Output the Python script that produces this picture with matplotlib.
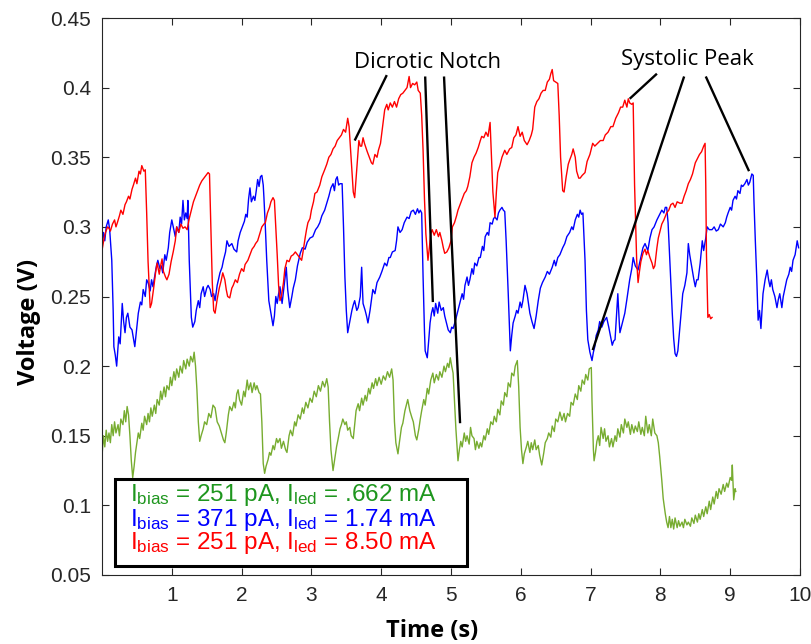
import numpy as np
import matplotlib
matplotlib.use("Agg")
import matplotlib.pyplot as plt
from matplotlib.patches import Rectangle

plt.rcParams['font.family'] = ['Liberation Sans', 'DejaVu Sans']
plt.rcParams['mathtext.fontset'] = 'custom'
plt.rcParams['mathtext.rm'] = 'Liberation Sans'
plt.rcParams['mathtext.it'] = 'Liberation Sans'

# ---------------- data (time s, voltage V) ----------------
red_pts = [
(0.00,.283),(0.03,.292),(0.05,.296),(0.08,.300),(0.10,.299),(0.12,.297),(0.15,.302),(0.18,.305),(0.20,.300),(0.22,.303),
(0.25,.308),(0.27,.312),(0.30,.309),(0.33,.316),(0.35,.318),(0.38,.322),(0.40,.320),(0.43,.327),(0.45,.330),(0.48,.335),
(0.50,.331),(0.53,.340),(0.55,.338),(0.57,.344),(0.60,.340),(0.62,.341),(0.64,.310),(0.66,.275),(0.69,.242),(0.71,.245),
(0.74,.256),(0.77,.268),(0.79,.274),(0.82,.266),(0.84,.272),(0.86,.277),(0.88,.268),(0.91,.264),(0.93,.262),(0.96,.266),
(0.99,.275),(1.02,.282),(1.05,.290),(1.07,.300),(1.10,.296),(1.13,.302),(1.16,.299),(1.19,.300),(1.22,.298),(1.25,.306),
(1.28,.312),(1.31,.318),(1.34,.322),(1.37,.326),(1.40,.330),(1.43,.333),(1.46,.335),(1.49,.337),(1.52,.339),(1.54,.338),
(1.56,.300),(1.58,.260),(1.60,.240),(1.62,.238),(1.65,.248),(1.68,.256),(1.71,.262),(1.73,.267),(1.76,.262),(1.78,.255),
(1.80,.250),(1.83,.249),(1.86,.256),(1.88,.258),(1.91,.262),(1.94,.260),(1.97,.266),(2.00,.270),(2.03,.268),(2.05,.273),
(2.09,.276),(2.12,.280),(2.15,.284),(2.18,.286),(2.20,.288),(2.23,.290),(2.26,.295),(2.29,.300),(2.32,.302),(2.34,.303),
(2.37,.310),(2.40,.314),(2.42,.318),(2.45,.321),(2.47,.319),(2.49,.300),(2.51,.280),(2.53,.258),(2.55,.247),(2.57,.250),
(2.60,.260),(2.62,.270),(2.65,.276),(2.68,.275),(2.71,.279),(2.74,.280),(2.77,.282),(2.80,.280),(2.83,.278),(2.86,.276),
(2.88,.282),(2.91,.292),(2.93,.298),(2.95,.303),(2.98,.306),(3.00,.312),(3.03,.318),(3.05,.324),(3.08,.325),(3.12,.330),
(3.15,.336),(3.19,.341),(3.22,.345),(3.25,.350),(3.28,.352),(3.31,.356),(3.34,.358),(3.37,.362),(3.40,.364),(3.43,.366),
(3.46,.370),(3.49,.368),(3.52,.378),(3.54,.372),(3.56,.356),(3.58,.340),(3.60,.325),(3.62,.321),(3.64,.335),(3.66,.350),
(3.68,.362),(3.70,.358),(3.72,.358),(3.74,.364),(3.76,.360),(3.78,.357),(3.80,.354),(3.83,.350),(3.86,.346),(3.88,.345),
(3.91,.352),(3.94,.350),(3.96,.355),(3.99,.360),(4.02,.372),(4.05,.384),(4.08,.388),(4.10,.384),(4.13,.389),(4.16,.386),
(4.19,.390),(4.22,.386),(4.25,.392),(4.28,.395),(4.31,.396),(4.34,.398),(4.37,.400),(4.40,.408),(4.42,.400),(4.45,.403),
(4.48,.402),(4.51,.404),(4.53,.398),(4.56,.396),(4.58,.380),(4.60,.355),(4.62,.320),(4.64,.295),(4.67,.276),(4.69,.285),
(4.71,.295),(4.73,.298),(4.76,.294),(4.79,.298),(4.82,.293),(4.84,.296),(4.87,.290),(4.89,.285),(4.91,.281),(4.94,.282),
(4.97,.285),(5.00,.290),(5.02,.300),(5.05,.303),(5.08,.308),(5.10,.312),(5.13,.316),(5.16,.320),(5.19,.324),(5.22,.326),
(5.24,.329),(5.27,.336),(5.30,.346),(5.33,.350),(5.36,.353),(5.39,.357),(5.42,.362),(5.44,.365),(5.47,.364),(5.50,.368),
(5.53,.365),(5.56,.375),(5.58,.350),(5.60,.325),(5.63,.307),(5.65,.325),(5.67,.339),(5.70,.344),(5.73,.350),(5.77,.355),
(5.80,.352),(5.84,.356),(5.87,.357),(5.90,.364),(5.93,.366),(5.96,.372),(5.99,.365),(6.02,.368),(6.05,.362),(6.09,.359),
(6.12,.362),(6.15,.366),(6.17,.370),(6.20,.386),(6.23,.390),(6.26,.392),(6.29,.396),(6.32,.398),(6.35,.398),(6.38,.404),
(6.41,.406),(6.43,.410),(6.45,.413),(6.47,.405),(6.50,.404),(6.53,.403),(6.55,.380),(6.57,.350),(6.60,.326),(6.62,.325),
(6.65,.336),(6.68,.345),(6.70,.348),(6.73,.352),(6.75,.356),(6.78,.350),(6.80,.340),(6.83,.335),(6.85,.335),(6.88,.337),
(6.92,.339),(6.95,.347),(6.99,.352),(7.03,.360),(7.06,.358),(7.10,.360),(7.14,.362),(7.18,.362),(7.21,.366),(7.25,.368),
(7.29,.372),(7.32,.372),(7.36,.378),(7.40,.382),(7.43,.386),(7.46,.386),(7.49,.391),(7.52,.386),(7.54,.392),(7.56,.389),
(7.59,.388),(7.61,.389),(7.63,.330),(7.66,.276),(7.68,.260),(7.70,.268),(7.72,.275),(7.75,.281),(7.78,.284),(7.80,.280),
(7.82,.283),(7.85,.278),(7.88,.274),(7.90,.270),(7.92,.272),(7.95,.285),(7.97,.292),(7.99,.296),(8.02,.302),(8.05,.305),
(8.09,.310),(8.12,.312),(8.15,.316),(8.18,.317),(8.21,.314),(8.24,.318),(8.28,.317),(8.31,.317),(8.34,.322),(8.37,.326),
(8.40,.331),(8.43,.334),(8.46,.338),(8.48,.342),(8.50,.346),(8.53,.349),(8.56,.352),(8.59,.354),(8.62,.358),(8.64,.360),
(8.65,.330),(8.66,.280),(8.68,.235),(8.70,.237),(8.72,.234),(8.74,.235),
]

blue_pts = [
(0.00,.288),(0.02,.296),(0.04,.290),(0.06,.300),(0.09,.305),(0.11,.298),(0.14,.276),(0.16,.240),(0.17,.214),(0.19,.208),
(0.21,.200),(0.24,.221),(0.26,.216),(0.29,.245),(0.31,.232),(0.33,.224),(0.35,.235),(0.37,.238),(0.40,.228),(0.43,.226),
(0.45,.220),(0.47,.214),(0.50,.228),(0.52,.238),(0.55,.246),(0.57,.244),(0.59,.255),(0.62,.250),(0.64,.262),(0.66,.260),
(0.69,.254),(0.71,.262),(0.73,.257),(0.76,.266),(0.78,.272),(0.80,.276),(0.83,.270),(0.85,.272),(0.87,.267),(0.90,.280),
(0.92,.276),(0.95,.285),(0.97,.296),(1.00,.305),(1.03,.298),(1.05,.293),(1.07,.300),(1.10,.296),(1.12,.307),(1.14,.302),
(1.16,.319),(1.18,.305),(1.20,.310),(1.22,.306),(1.23,.319),(1.25,.276),(1.27,.250),(1.28,.235),(1.30,.228),(1.33,.232),
(1.35,.240),(1.38,.247),(1.40,.242),(1.42,.252),(1.45,.257),(1.47,.250),(1.50,.256),(1.52,.258),(1.55,.255),(1.57,.250),
(1.60,.252),(1.62,.247),(1.65,.258),(1.69,.267),(1.72,.271),(1.74,.276),(1.77,.282),(1.79,.290),(1.82,.286),(1.86,.288),
(1.89,.284),(1.93,.282),(1.95,.290),(1.98,.296),(2.01,.300),(2.04,.304),(2.06,.309),(2.08,.307),(2.10,.320),(2.12,.328),
(2.14,.318),(2.17,.322),(2.19,.319),(2.21,.326),(2.23,.334),(2.25,.329),(2.27,.336),(2.29,.337),(2.31,.330),(2.32,.321),
(2.34,.300),(2.36,.276),(2.39,.247),(2.42,.238),(2.45,.229),(2.47,.236),(2.49,.250),(2.51,.245),(2.53,.252),(2.55,.257),
(2.58,.245),(2.61,.258),(2.64,.271),(2.66,.255),(2.69,.242),(2.72,.250),(2.74,.256),(2.77,.262),(2.80,.272),(2.84,.281),
(2.87,.285),(2.91,.284),(2.94,.289),(2.98,.292),(3.02,.293),(3.06,.298),(3.09,.300),(3.12,.303),(3.15,.308),(3.19,.312),
(3.22,.317),(3.25,.322),(3.28,.328),(3.31,.331),(3.33,.326),(3.35,.334),(3.37,.336),(3.39,.330),(3.41,.331),(3.44,.331),
(3.46,.300),(3.48,.264),(3.50,.240),(3.52,.224),(3.55,.232),(3.58,.240),(3.60,.244),(3.62,.247),(3.65,.240),(3.67,.242),
(3.70,.250),(3.72,.271),(3.74,.245),(3.77,.240),(3.79,.236),(3.81,.231),(3.84,.240),(3.88,.255),(3.91,.252),(3.94,.260),
(3.98,.264),(4.01,.268),(4.05,.274),(4.08,.272),(4.11,.278),(4.13,.278),(4.16,.282),(4.20,.283),(4.22,.290),(4.24,.300),
(4.27,.296),(4.30,.298),(4.33,.303),(4.37,.307),(4.40,.306),(4.43,.311),(4.46,.312),(4.49,.309),(4.52,.313),(4.54,.310),
(4.56,.312),(4.58,.310),(4.60,.264),(4.62,.225),(4.63,.211),(4.66,.206),(4.68,.218),(4.70,.231),(4.72,.238),(4.74,.242),
(4.76,.236),(4.78,.245),(4.81,.238),(4.83,.246),(4.86,.240),(4.89,.242),(4.91,.236),(4.94,.230),(4.96,.226),(4.99,.224),
(5.01,.228),(5.03,.227),(5.06,.232),(5.09,.238),(5.12,.244),(5.16,.252),(5.18,.248),(5.20,.258),(5.23,.264),(5.25,.258),
(5.27,.262),(5.30,.270),(5.32,.266),(5.34,.274),(5.37,.272),(5.40,.278),(5.42,.278),(5.45,.286),(5.47,.283),(5.49,.293),
(5.52,.296),(5.54,.294),(5.56,.303),(5.59,.302),(5.61,.306),(5.63,.307),(5.66,.305),(5.68,.310),(5.70,.312),(5.73,.314),
(5.75,.312),(5.77,.311),(5.79,.290),(5.82,.252),(5.85,.211),(5.87,.222),(5.89,.231),(5.92,.236),(5.94,.240),(5.96,.238),
(5.99,.246),(6.01,.242),(6.03,.247),(6.06,.258),(6.09,.252),(6.11,.245),(6.13,.238),(6.16,.232),(6.19,.227),(6.22,.236),
(6.25,.247),(6.28,.256),(6.31,.260),(6.35,.264),(6.38,.268),(6.41,.266),(6.45,.271),(6.48,.276),(6.50,.272),(6.53,.278),
(6.56,.280),(6.60,.285),(6.63,.288),(6.66,.293),(6.70,.296),(6.73,.300),(6.75,.298),(6.78,.305),(6.81,.309),(6.83,.307),
(6.85,.312),(6.87,.309),(6.89,.310),(6.92,.276),(6.94,.240),(6.96,.219),(6.99,.210),(7.02,.204),(7.04,.210),(7.06,.214),
(7.08,.222),(7.11,.226),(7.13,.232),(7.16,.228),(7.19,.232),(7.23,.235),(7.26,.228),(7.29,.220),(7.31,.215),(7.33,.218),
(7.35,.219),(7.37,.235),(7.39,.252),(7.41,.232),(7.42,.224),(7.45,.230),(7.49,.238),(7.52,.248),(7.56,.262),(7.59,.270),
(7.61,.278),(7.64,.272),(7.68,.269),(7.71,.276),(7.75,.285),(7.78,.288),(7.82,.283),(7.85,.292),(7.88,.298),(7.91,.300),
(7.95,.305),(7.98,.308),(8.02,.312),(8.05,.310),(8.07,.314),(8.09,.314),(8.11,.303),(8.14,.270),(8.17,.238),(8.19,.220),
(8.21,.209),(8.23,.207),(8.25,.211),(8.28,.228),(8.30,.240),(8.32,.252),(8.35,.258),(8.38,.267),(8.40,.288),(8.42,.280),
(8.45,.271),(8.48,.262),(8.50,.257),(8.52,.262),(8.54,.262),(8.57,.274),(8.60,.290),(8.62,.283),(8.65,.292),(8.67,.300),
(8.70,.298),(8.74,.298),(8.77,.300),(8.80,.297),(8.83,.298),(8.86,.302),(8.90,.300),(8.93,.303),(8.95,.307),(8.97,.310),
(9.00,.314),(9.02,.312),(9.04,.319),(9.07,.322),(9.09,.320),(9.11,.326),(9.14,.324),(9.16,.330),(9.18,.329),(9.21,.331),
(9.24,.334),(9.26,.330),(9.28,.332),(9.31,.338),(9.33,.337),(9.34,.319),(9.36,.290),(9.38,.264),(9.40,.233),(9.42,.240),
(9.44,.227),(9.47,.252),(9.50,.262),(9.53,.269),(9.55,.262),(9.57,.257),(9.59,.262),(9.61,.255),(9.64,.250),(9.67,.242),
(9.69,.248),(9.71,.252),(9.74,.242),(9.76,.250),(9.79,.257),(9.81,.262),(9.84,.266),(9.86,.271),(9.88,.268),(9.90,.276),
(9.93,.280),(9.96,.290),(9.98,.285),
]

green_pts = [
(0.00,.135),(0.02,.150),(0.04,.142),(0.06,.154),(0.08,.146),(0.10,.152),(0.12,.145),(0.14,.158),(0.16,.150),(0.18,.160),
(0.20,.152),(0.23,.158),(0.25,.150),(0.27,.162),(0.30,.158),(0.32,.168),(0.34,.160),(0.36,.171),(0.38,.165),(0.40,.150),
(0.42,.132),(0.44,.120),(0.46,.128),(0.48,.138),(0.50,.145),(0.52,.152),(0.54,.148),(0.57,.159),(0.59,.154),(0.61,.164),
(0.64,.158),(0.66,.166),(0.68,.160),(0.70,.170),(0.72,.164),(0.75,.172),(0.77,.166),(0.79,.176),(0.82,.172),(0.84,.182),
(0.86,.176),(0.89,.185),(0.91,.178),(0.93,.186),(0.96,.183),(0.98,.192),(1.00,.186),(1.03,.196),(1.05,.190),(1.07,.198),
(1.10,.192),(1.12,.200),(1.15,.195),(1.17,.204),(1.20,.198),(1.22,.205),(1.25,.200),(1.27,.207),(1.30,.203),(1.32,.210),
(1.34,.200),(1.36,.183),(1.38,.160),(1.40,.146),(1.42,.150),(1.45,.155),(1.47,.160),(1.50,.158),(1.53,.166),(1.56,.163),
(1.59,.172),(1.62,.170),(1.65,.160),(1.68,.157),(1.71,.152),(1.74,.147),(1.76,.145),(1.78,.152),(1.81,.165),(1.83,.171),
(1.86,.168),(1.89,.174),(1.91,.170),(1.93,.180),(1.95,.183),(1.97,.176),(2.00,.172),(2.03,.182),(2.05,.178),(2.08,.190),
(2.10,.183),(2.13,.188),(2.15,.181),(2.18,.188),(2.20,.183),(2.22,.186),(2.25,.181),(2.27,.180),(2.29,.160),(2.31,.130),
(2.33,.123),(2.35,.128),(2.38,.133),(2.40,.138),(2.42,.136),(2.45,.143),(2.47,.140),(2.50,.148),(2.52,.145),(2.55,.148),
(2.57,.141),(2.60,.146),(2.63,.140),(2.65,.138),(2.68,.150),(2.70,.154),(2.73,.150),(2.76,.160),(2.78,.157),(2.81,.165),
(2.84,.162),(2.87,.170),(2.89,.166),(2.92,.174),(2.95,.170),(2.98,.177),(3.01,.174),(3.04,.182),(3.07,.178),(3.10,.186),
(3.13,.182),(3.16,.189),(3.19,.185),(3.22,.191),(3.24,.185),(3.26,.160),(3.28,.140),(3.31,.125),(3.34,.135),(3.36,.142),
(3.38,.147),(3.41,.155),(3.43,.158),(3.45,.162),(3.48,.158),(3.50,.160),(3.52,.154),(3.55,.156),(3.57,.150),(3.60,.148),
(3.62,.158),(3.64,.168),(3.67,.173),(3.69,.168),(3.72,.177),(3.74,.172),(3.77,.179),(3.79,.175),(3.82,.184),(3.84,.180),
(3.87,.188),(3.89,.184),(3.92,.191),(3.94,.186),(3.97,.192),(4.00,.187),(4.03,.193),(4.06,.190),(4.09,.196),(4.12,.192),
(4.15,.198),(4.17,.190),(4.19,.160),(4.21,.145),(4.24,.137),(4.26,.145),(4.29,.156),(4.31,.159),(4.34,.168),(4.36,.172),
(4.38,.176),(4.41,.168),(4.44,.163),(4.46,.160),(4.49,.150),(4.51,.147),(4.54,.155),(4.56,.162),(4.58,.168),(4.61,.176),
(4.63,.172),(4.66,.184),(4.68,.180),(4.71,.190),(4.74,.195),(4.76,.188),(4.79,.194),(4.82,.190),(4.84,.196),(4.87,.192),
(4.90,.200),(4.92,.196),(4.95,.202),(4.97,.199),(4.99,.206),(5.01,.200),(5.03,.195),(5.05,.175),(5.07,.155),(5.10,.132),
(5.12,.140),(5.14,.146),(5.16,.142),(5.19,.152),(5.21,.146),(5.23,.150),(5.26,.144),(5.28,.156),(5.30,.150),(5.33,.148),
(5.35,.140),(5.37,.146),(5.40,.141),(5.42,.145),(5.44,.142),(5.47,.150),(5.49,.147),(5.52,.155),(5.54,.151),(5.57,.160),
(5.60,.158),(5.62,.164),(5.65,.160),(5.67,.169),(5.70,.165),(5.72,.175),(5.75,.172),(5.77,.181),(5.80,.178),(5.82,.188),
(5.85,.185),(5.87,.195),(5.90,.193),(5.92,.200),(5.95,.204),(5.97,.185),(5.99,.156),(6.01,.140),(6.03,.130),(6.05,.137),
(6.08,.142),(6.10,.146),(6.13,.138),(6.15,.145),(6.17,.140),(6.20,.147),(6.22,.140),(6.25,.143),(6.27,.136),(6.30,.129),
(6.33,.138),(6.35,.145),(6.38,.148),(6.40,.152),(6.43,.149),(6.45,.157),(6.48,.153),(6.50,.162),(6.53,.160),(6.56,.167),
(6.59,.161),(6.62,.166),(6.64,.160),(6.67,.166),(6.70,.164),(6.72,.174),(6.75,.172),(6.78,.180),(6.81,.176),(6.83,.186),
(6.86,.182),(6.88,.190),(6.91,.187),(6.93,.194),(6.96,.190),(6.98,.198),(7.01,.199),(7.02,.175),(7.04,.140),(7.05,.132),
(7.07,.138),(7.09,.146),(7.11,.150),(7.13,.143),(7.15,.156),(7.18,.148),(7.20,.155),(7.22,.146),(7.25,.150),(7.27,.142),
(7.30,.148),(7.32,.142),(7.35,.150),(7.37,.146),(7.39,.155),(7.42,.149),(7.44,.158),(7.47,.152),(7.49,.162),(7.52,.156),
(7.54,.160),(7.57,.151),(7.59,.158),(7.62,.152),(7.64,.157),(7.67,.153),(7.69,.160),(7.72,.151),(7.74,.156),(7.77,.150),
(7.79,.164),(7.82,.152),(7.84,.158),(7.87,.150),(7.89,.162),(7.92,.152),(7.95,.150),(7.97,.145),(7.99,.135),(8.02,.118),
(8.04,.105),(8.07,.094),(8.09,.088),(8.11,.084),(8.13,.092),(8.15,.084),(8.17,.090),(8.19,.083),(8.21,.091),(8.24,.084),
(8.26,.089),(8.28,.085),(8.31,.088),(8.33,.084),(8.35,.090),(8.38,.086),(8.40,.088),(8.43,.085),(8.45,.091),(8.48,.087),
(8.50,.093),(8.53,.088),(8.55,.094),(8.57,.090),(8.60,.097),(8.62,.092),(8.65,.099),(8.67,.094),(8.70,.103),(8.72,.097),
(8.75,.106),(8.77,.101),(8.80,.110),(8.82,.105),(8.84,.112),(8.87,.108),(8.90,.115),(8.92,.110),(8.95,.116),(8.97,.113),
(9.00,.120),(9.02,.118),(9.03,.129),(9.05,.104),(9.07,.112),(9.08,.110),
]

legend_lines = [
    (r'I$_{\mathregular{bias}}$ = 251 pA, I$_{\mathregular{led}}$ = .662 mA', '#1e961e'),
    (r'I$_{\mathregular{bias}}$ = 371 pA, I$_{\mathregular{led}}$ = 1.74 mA', '#0000ff'),
    (r'I$_{\mathregular{bias}}$ = 251 pA, I$_{\mathregular{led}}$ = 8.50 mA', '#ff0000'),
]

notch_text = 'Dicrotic Notch'
notch_lines = [((4.08, 0.409), (3.62, 0.362)),
               ((4.63, 0.408), (4.74, 0.246)),
               ((4.90, 0.408), (5.13, 0.159))]
peak_text = 'Systolic Peak'
peak_lines = [((7.95, 0.410), (7.56, 0.392)),
              ((8.34, 0.408), (7.03, 0.2115)),
              ((8.65, 0.408), (9.27, 0.340))]

xticks = [1, 2, 3, 4, 5, 6, 7, 8, 9, 10]
yticks = [0.05, 0.1, 0.15, 0.2, 0.25, 0.3, 0.35, 0.4, 0.45]
yticklabels = ['0.05', '0.1', '0.15', '0.2', '0.25', '0.3', '0.35', '0.4', '0.45']

# ---------------- figure ----------------
fig = plt.figure(figsize=(8.11, 6.44), dpi=100)
ax = fig.add_axes([102/811, 1 - 575/644, 698/811, 557/644])

red = np.array(red_pts)
blue = np.array(blue_pts)
green = np.array(green_pts)

ax.plot(green[:, 0], green[:, 1], color='#77ac30', lw=1.0)
ax.plot(blue[:, 0], blue[:, 1], color='#0000ff', lw=1.0)
ax.plot(red[:, 0], red[:, 1], color='#ff0000', lw=1.0)

ax.set_xlim(0, 10)
ax.set_ylim(0.05, 0.45)
ax.set_xticks(xticks)
ax.set_xticklabels([str(x) for x in xticks])
ax.set_yticks(yticks)
ax.set_yticklabels(yticklabels)
axis_col = '#262626'
for s in ax.spines.values():
    s.set_color(axis_col)
    s.set_linewidth(0.8)
ax.tick_params(direction='in', length=5, width=0.8, colors=axis_col,
               top=True, right=True, labelsize=15, pad=8)
for lbl in ax.get_xticklabels() + ax.get_yticklabels():
    lbl.set_color(axis_col)

xl = ax.set_xlabel('Time (s)', fontsize=17, fontweight='bold', family='Open Sans')
yl = ax.set_ylabel('Voltage (V)', fontsize=17, fontweight='bold', family='Open Sans')
xl.set_va('center')
yl.set_va('center')
ax.xaxis.set_label_coords((432 - 102) / 698, -(631 - 575) / 557)
ax.yaxis.set_label_coords(-(102 - 29) / 698, (575 - 322) / 557)

for (p0, p1) in notch_lines + peak_lines:
    ax.plot([p0[0], p1[0]], [p0[1], p1[1]], color='black', lw=1.7, solid_capstyle='butt')
ax.text(4.67, 0.4184, notch_text, fontsize=16, family='Open Sans', ha='center', va='center')
ax.text(8.38, 0.4205, peak_text, fontsize=16, family='Open Sans', ha='center', va='center')

ax.add_patch(Rectangle((0.186, 0.0563), 5.23 - 0.186, 0.1188 - 0.0563,
                       facecolor='white', edgecolor='black', lw=2.2, zorder=5))
for (txt, col), yv in zip(legend_lines, [0.1073, 0.0894, 0.0728]):
    ax.text(0.40, yv, txt, color=col, fontsize=17.5, ha='left', va='center', zorder=6)

fig.savefig('out.png', dpi=100)
